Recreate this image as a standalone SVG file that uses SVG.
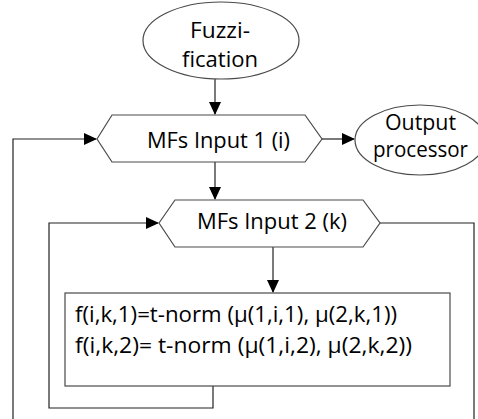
<svg xmlns="http://www.w3.org/2000/svg" width="478" height="419" viewBox="0 0 478 419">
<defs>
<marker id="ah" markerWidth="13" markerHeight="12" refX="12" refY="6" orient="auto" markerUnits="userSpaceOnUse">
<path d="M0,0 L13,6 L0,12 Z" fill="#000"/>
</marker>
<style>
.sh{fill:#fff;stroke:#4a4a4a;stroke-width:1.2}
.ln{fill:none;stroke:#222;stroke-width:1.2}
.t{font-family:"Open Sans",sans-serif;font-size:22px;fill:#000;font-variant-ligatures:none}
</style>
</defs>
<rect width="478" height="419" fill="#fff"/>
<g id="connectors">
<path class="ln" d="M215,79 V114" marker-end="url(#ah)"/>
<path class="ln" d="M322,139 H354" marker-end="url(#ah)"/>
<path class="ln" d="M215,162 V199" marker-end="url(#ah)"/>
<path class="ln" d="M13,419 V139 H96" marker-end="url(#ah)"/>
<path class="ln" d="M380,223 H474 V419"/>
<path class="ln" d="M273,247 V292" marker-end="url(#ah)"/>
<path class="ln" d="M213,386 V408 H49 V223 H158" marker-end="url(#ah)"/>
</g>
<g id="fuzzification">
<ellipse class="sh" cx="221" cy="40.5" rx="78" ry="38.5"/>
<text class="t" x="190" y="38" textLength="60" lengthAdjust="spacingAndGlyphs">Fuzzi-</text>
<text class="t" x="182" y="67" textLength="76" lengthAdjust="spacingAndGlyphs">fication</text>
</g>
<g id="mfs-input-1">
<polygon class="sh" points="97,139 112,115 305,115 322,139 305,162 112,162"/>
<text class="t" x="147" y="148" textLength="143" lengthAdjust="spacingAndGlyphs">MFs Input 1 (i)</text>
</g>
<g id="output-processor">
<ellipse class="sh" cx="420" cy="140" rx="65" ry="35"/>
<text class="t" x="385" y="130" textLength="71" lengthAdjust="spacingAndGlyphs">Output</text>
<text class="t" x="373" y="157" textLength="95" lengthAdjust="spacingAndGlyphs">processor</text>
</g>
<g id="mfs-input-2">
<polygon class="sh" points="159,223 175,200 363,200 380,223 363,247 175,247"/>
<text class="t" x="197" y="229" textLength="150" lengthAdjust="spacingAndGlyphs">MFs Input 2 (k)</text>
</g>
<g id="t-norm">
<rect class="sh" x="65" y="293" width="385" height="93"/>
<text class="t" x="75" y="322" textLength="322" lengthAdjust="spacingAndGlyphs">f(i,k,1)=t-norm (μ(1,i,1), μ(2,k,1))</text>
<text class="t" x="75" y="353" textLength="337" lengthAdjust="spacingAndGlyphs">f(i,k,2)= t-norm (μ(1,i,2), μ(2,k,2))</text>
</g>
</svg>
